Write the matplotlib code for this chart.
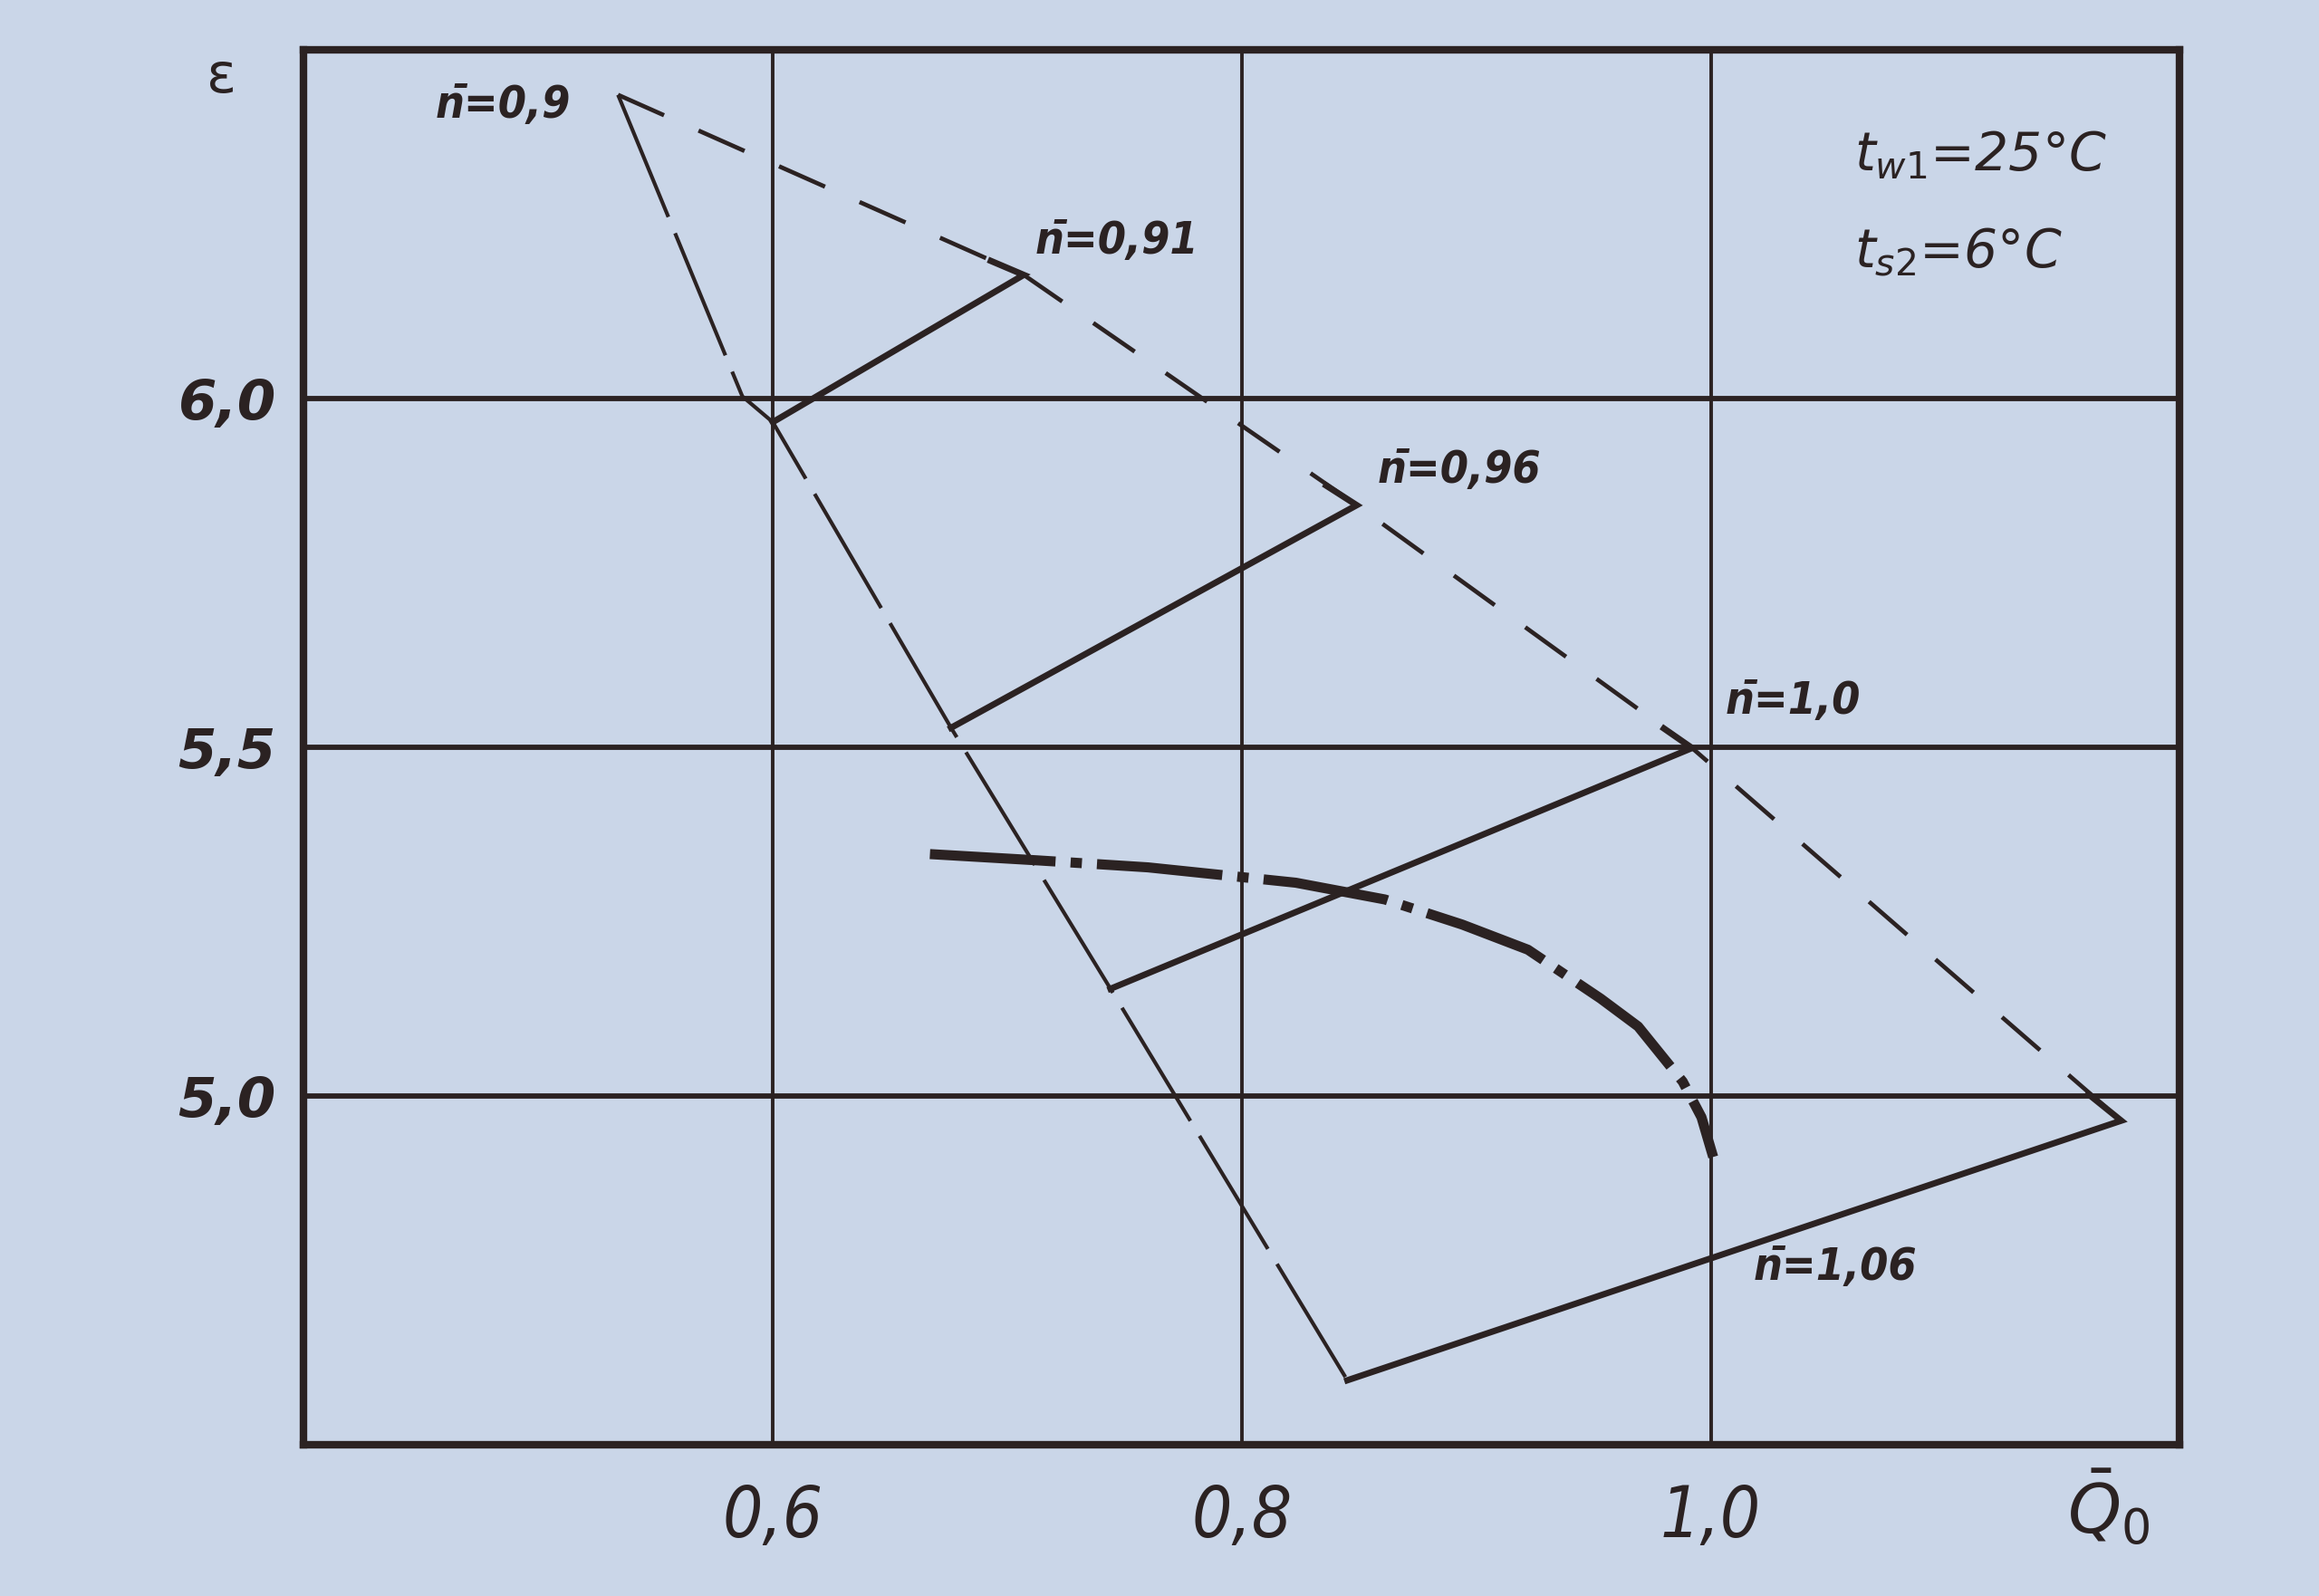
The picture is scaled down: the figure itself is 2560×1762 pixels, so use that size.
import matplotlib.pyplot as plt

plt.rcParams['lines.scale_dashes'] = False

# data
x_ticks = [0.6, 0.8, 1.0]
x_tick_labels = ['0,6', '0,8', '1,0']
y_ticks = [5.0, 5.5, 6.0]
y_tick_labels = ['5,0', '5,5', '6,0']

# left boundary (long dashes)
left_x = [0.534, 0.587, 0.600, 0.676, 0.744, 0.845]
left_y = [6.435, 6.003, 5.966, 5.528, 5.154, 4.593]

# right boundary through the vertices (dashed)
right_x = [0.534, 0.707, 0.849, 0.992, 1.175]
right_y = [6.435, 6.177, 5.847, 5.499, 4.965]

# n-bar lines: start on left boundary -> tip -> short hook back
n_labels = ['n\u0304=0,9', 'n\u0304=0,91', 'n\u0304=0,96', 'n\u0304=1,0', 'n\u0304=1,06']
n091_x = [0.600, 0.707, 0.693]
n091_y = [5.966, 6.177, 6.197]
n096_x = [0.676, 0.849, 0.836]
n096_y = [5.528, 5.847, 5.875]
n100_x = [0.744, 0.992, 0.980]
n100_y = [5.154, 5.499, 5.527]
n106_x = [0.845, 1.175, 1.161]
n106_y = [4.593, 4.965, 5.003]

# dash-dot curve
curve_x = [0.667, 0.713, 0.760, 0.823, 0.861, 0.894, 0.922, 0.953, 0.969, 0.988, 0.996, 1.001]
curve_y = [5.347, 5.338, 5.328, 5.306, 5.282, 5.246, 5.210, 5.140, 5.100, 5.021, 4.970, 4.913]

# label anchors
label_x = [0.514, 0.712, 0.858, 1.006, 1.018]
label_y = [6.420, 6.226, 5.897, 5.566, 4.755]

bg = '#cad6e8'
ink = '#2b2222'
narrow = dict(family='DejaVu Sans', fontstretch='condensed')

fig = plt.figure(figsize=(25.6, 17.62), dpi=100)
fig.patch.set_facecolor(bg)
ax = fig.add_axes([0.131, 0.0945, 0.809, 0.8745])
ax.set_facecolor(bg)
ax.set_xlim(0.4, 1.2)
ax.set_ylim(4.5, 6.5)

for x in x_ticks:
    ax.axvline(x, color=ink, lw=2.8, zorder=1)
for y in y_ticks:
    ax.axhline(y, color=ink, lw=4.2, zorder=1)
for s in ax.spines.values():
    s.set_linewidth(6)
    s.set_color(ink)

ax.plot(left_x, left_y, color=ink, lw=3.0, dashes=(105, 14), zorder=3)
ax.plot(right_x, right_y, color=ink, lw=3.4, dashes=(40, 30), zorder=3)
for xs, ys in [(n091_x, n091_y), (n096_x, n096_y), (n100_x, n100_y), (n106_x, n106_y)]:
    ax.plot(xs, ys, color=ink, lw=5.0, solid_joinstyle='miter', zorder=4)
ax.plot(curve_x, curve_y, color=ink, lw=8.0, dashes=(100, 12, 9, 12),
        dash_joinstyle='round', zorder=4)

for lab, x, y, ha in zip(n_labels, label_x, label_y, ['right', 'left', 'left', 'left', 'left']):
    ax.text(x, y, lab, fontsize=36, fontweight='bold', fontstyle='italic',
            ha=ha, va='center', color=ink, **narrow)

ax.text(1.061, 6.348, r'$t_{w1}$=25°C', fontsize=42, fontstyle='italic', va='center', color=ink)
ax.text(1.061, 6.210, r'$t_{s2}$=6°C', fontsize=42, fontstyle='italic', va='center', color=ink)

ax.set_xticks(x_ticks)
ax.set_xticklabels(x_tick_labels, fontsize=56, fontstyle='italic', color=ink, **narrow)
ax.set_yticks(y_ticks)
ax.set_yticklabels(y_tick_labels, fontsize=44, fontweight='bold', fontstyle='italic', color=ink)
ax.tick_params(length=0)
ax.tick_params(axis='x', pad=30)
ax.tick_params(axis='y', pad=22)

ax.text(-0.044, 0.98, 'ε', transform=ax.transAxes, fontsize=44, ha='center', va='center', color=ink)
ax.text(0.962, -0.045, r'$\bar{Q}_0$', transform=ax.transAxes, fontsize=54, ha='center', va='center', color=ink)

fig.savefig('out.png', dpi=100, facecolor=bg)
